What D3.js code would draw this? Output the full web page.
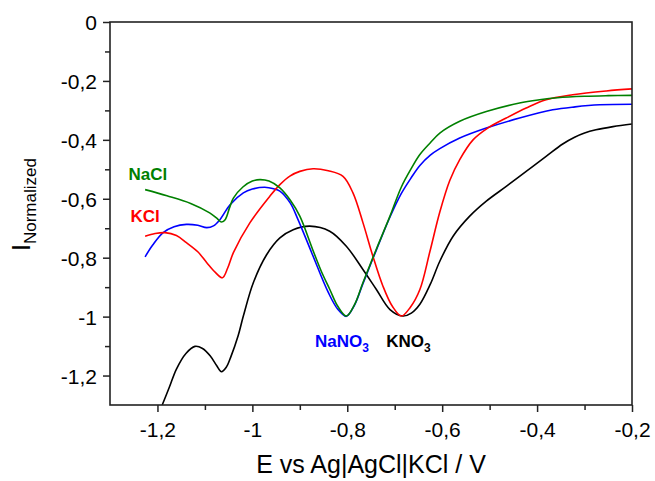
<!DOCTYPE html>
<html>
<head>
<meta charset="utf-8">
<script src="https://cdn.jsdelivr.net/npm/d3@7/dist/d3.min.js"></script>
<style>
  html, body { margin: 0; padding: 0; background: #ffffff; }
  svg { display: block; font-family: "Liberation Sans", Arial, sans-serif; }
</style>
</head>
<body>
<svg id="chart" width="655" height="481"></svg>
<script>
// ---- data (E vs Ag|AgCl|KCl / V, normalized current) ----
const naclE = [-1.226,-1.18,-1.13,-1.09,-1.075,-1.065,-1.057,-1.048,-1.04,-1.02,-1.0,-0.984,-0.965,-0.942,-0.92,-0.9,-0.873,-0.855,-0.837,-0.82,-0.802,-0.785,-0.767,-0.739,-0.71,-0.686,-0.665,-0.647,-0.625,-0.605,-0.563,-0.507,-0.437,-0.395,-0.357,-0.3,-0.25,-0.2];
const naclI = [-0.569,-0.590,-0.616,-0.648,-0.666,-0.679,-0.670,-0.630,-0.598,-0.560,-0.540,-0.535,-0.540,-0.563,-0.605,-0.659,-0.772,-0.845,-0.907,-0.965,-0.998,-0.960,-0.885,-0.772,-0.659,-0.560,-0.497,-0.450,-0.410,-0.377,-0.337,-0.304,-0.275,-0.264,-0.257,-0.252,-0.250,-0.249];

const nano3E = [-1.226,-1.21,-1.188,-1.165,-1.139,-1.115,-1.096,-1.082,-1.068,-1.047,-1.019,-1.0,-0.974,-0.955,-0.942,-0.92,-0.904,-0.875,-0.84,-0.82,-0.802,-0.785,-0.767,-0.739,-0.71,-0.686,-0.665,-0.647,-0.625,-0.605,-0.563,-0.507,-0.437,-0.367,-0.32,-0.268,-0.2];
const nano3I = [-0.797,-0.757,-0.715,-0.695,-0.687,-0.690,-0.698,-0.692,-0.670,-0.620,-0.580,-0.567,-0.561,-0.566,-0.574,-0.615,-0.670,-0.783,-0.918,-0.975,-0.999,-0.962,-0.888,-0.775,-0.662,-0.582,-0.528,-0.487,-0.452,-0.430,-0.394,-0.360,-0.326,-0.298,-0.288,-0.281,-0.279];

const kclE = [-1.226,-1.205,-1.184,-1.16,-1.139,-1.115,-1.096,-1.078,-1.063,-1.052,-1.04,-1.005,-0.963,-0.942,-0.921,-0.9,-0.872,-0.84,-0.809,-0.788,-0.767,-0.746,-0.725,-0.705,-0.686,-0.667,-0.647,-0.626,-0.605,-0.584,-0.563,-0.535,-0.504,-0.465,-0.423,-0.381,-0.325,-0.254,-0.2];
const kclI = [-0.727,-0.718,-0.715,-0.725,-0.749,-0.780,-0.817,-0.850,-0.868,-0.835,-0.783,-0.681,-0.591,-0.552,-0.523,-0.507,-0.498,-0.505,-0.524,-0.580,-0.681,-0.795,-0.896,-0.965,-0.998,-0.968,-0.908,-0.780,-0.645,-0.538,-0.467,-0.400,-0.360,-0.326,-0.292,-0.264,-0.247,-0.234,-0.227];

const kno3E = [-1.19,-1.175,-1.16,-1.14,-1.121,-1.105,-1.089,-1.075,-1.065,-1.055,-1.045,-1.03,-1.019,-0.998,-0.97,-0.942,-0.914,-0.879,-0.837,-0.802,-0.767,-0.739,-0.71,-0.683,-0.665,-0.647,-0.625,-0.605,-0.577,-0.542,-0.507,-0.465,-0.423,-0.381,-0.346,-0.322,-0.3,-0.276,-0.24,-0.2];
const kno3I = [-1.300,-1.240,-1.178,-1.125,-1.101,-1.108,-1.133,-1.167,-1.187,-1.172,-1.135,-1.065,-0.998,-0.885,-0.790,-0.733,-0.705,-0.693,-0.710,-0.761,-0.840,-0.907,-0.976,-0.998,-0.988,-0.958,-0.890,-0.812,-0.727,-0.659,-0.608,-0.558,-0.507,-0.456,-0.414,-0.392,-0.377,-0.366,-0.355,-0.346];

const xTicks = [-1.2,-1.0,-0.8,-0.6,-0.4,-0.2];
const xMinor = [-1.1,-0.9,-0.7,-0.5,-0.3];
const yTicks = [0,-0.2,-0.4,-0.6,-0.8,-1.0,-1.2];
const yMinor = [-0.1,-0.3,-0.5,-0.7,-0.9,-1.1];

const seriesNames = ["KNO3","NaNO3","KCl","NaCl"];
const seriesColors = ["#000000","#0000ff","#ff0000","#008000"];

// ---- layout ----
const svg = d3.select("#chart");
const m = {left:110, top:22, right:632, bottom:405};
const x = d3.scaleLinear().domain([-1.3,-0.2]).range([m.left, m.right]);
const y = d3.scaleLinear().domain([-1.3,0]).range([m.bottom, m.top]);
const fmt = d => String(+d.toFixed(1)).replace(".", ",");

const series = [
  {name:"KNO3", E:kno3E, I:kno3I},
  {name:"NaNO3", E:nano3E, I:nano3I},
  {name:"KCl", E:kclE, I:kclI},
  {name:"NaCl", E:naclE, I:naclI}
];

svg.append("defs").append("clipPath").attr("id","clip")
  .append("rect").attr("x", m.left).attr("y", m.top)
  .attr("width", m.right - m.left).attr("height", m.bottom - m.top);

const line = d3.line().x(d => x(d[0])).y(d => y(d[1])).curve(d3.curveCatmullRom.alpha(0.5));

const g = svg.append("g").attr("clip-path","url(#clip)");
series.forEach((s, i) => {
  const pts = s.E.map((e, k) => [e, s.I[k]]);
  g.append("path").datum(pts)
    .attr("d", line)
    .attr("fill","none")
    .attr("stroke", seriesColors[seriesNames.indexOf(s.name)])
    .attr("stroke-width", 1.6)
    .attr("stroke-linejoin","round");
});

// axes
const axisColor = "#222";
const xAxis = svg.append("g").attr("transform", `translate(0,${m.bottom})`)
  .call(d3.axisBottom(x).tickValues(xTicks).tickFormat(fmt).tickSize(7).tickPadding(10));
const xMin = svg.append("g").attr("transform", `translate(0,${m.bottom})`)
  .call(d3.axisBottom(x).tickValues(xMinor).tickFormat("").tickSize(5));
const yAxis = svg.append("g").attr("transform", `translate(${m.left},0)`)
  .call(d3.axisLeft(y).tickValues(yTicks).tickFormat(fmt).tickSize(7).tickPadding(6));
const yMin = svg.append("g").attr("transform", `translate(${m.left},0)`)
  .call(d3.axisLeft(y).tickValues(yMinor).tickFormat("").tickSize(5));

[xAxis, xMin, yAxis, yMin].forEach(a => {
  a.select(".domain").remove();
  a.selectAll("line").attr("stroke", axisColor).attr("stroke-width", 1.5);
  a.selectAll("text").attr("fill","#000").style("font-size","21px")
    .style("font-family","'Liberation Sans', Arial, sans-serif");
});
yAxis.selectAll("text").attr("dy","0.36em");

// frame
svg.append("rect")
  .attr("x", m.left).attr("y", m.top)
  .attr("width", m.right - m.left).attr("height", m.bottom - m.top)
  .attr("fill","none").attr("stroke", axisColor).attr("stroke-width", 1.6);

// axis titles
svg.append("text")
  .attr("x", (m.left + m.right) / 2).attr("y", 473)
  .attr("text-anchor","middle")
  .style("font-size","25px").attr("fill","#000")
  .text("E vs Ag|AgCl|KCl / V");

const yl = svg.append("text")
  .attr("transform", "translate(30,251) rotate(-90)")
  .attr("text-anchor","start").attr("fill","#000")
  .style("font-size","25px");
yl.append("tspan").text("I");
yl.append("tspan").attr("dy", 6).style("font-size","17px").text("Normalized");

// series labels
function label(txt, sub, px, py, color) {
  const t = svg.append("text").attr("x", px).attr("y", py)
    .attr("fill", color).style("font-size","17px").style("font-weight","bold");
  t.append("tspan").text(txt);
  if (sub) t.append("tspan").attr("dy", 5).style("font-size","12px").text(sub);
}
label("NaCl", null, x(-1.261), y(-0.535), seriesColors[3]);
label("KCl", null, x(-1.257), y(-0.678), seriesColors[2]);
label("NaNO", "3", x(-0.868), y(-1.103), seriesColors[1]);
label("KNO", "3", x(-0.718), y(-1.103), seriesColors[0]);
</script>
</body>
</html>
